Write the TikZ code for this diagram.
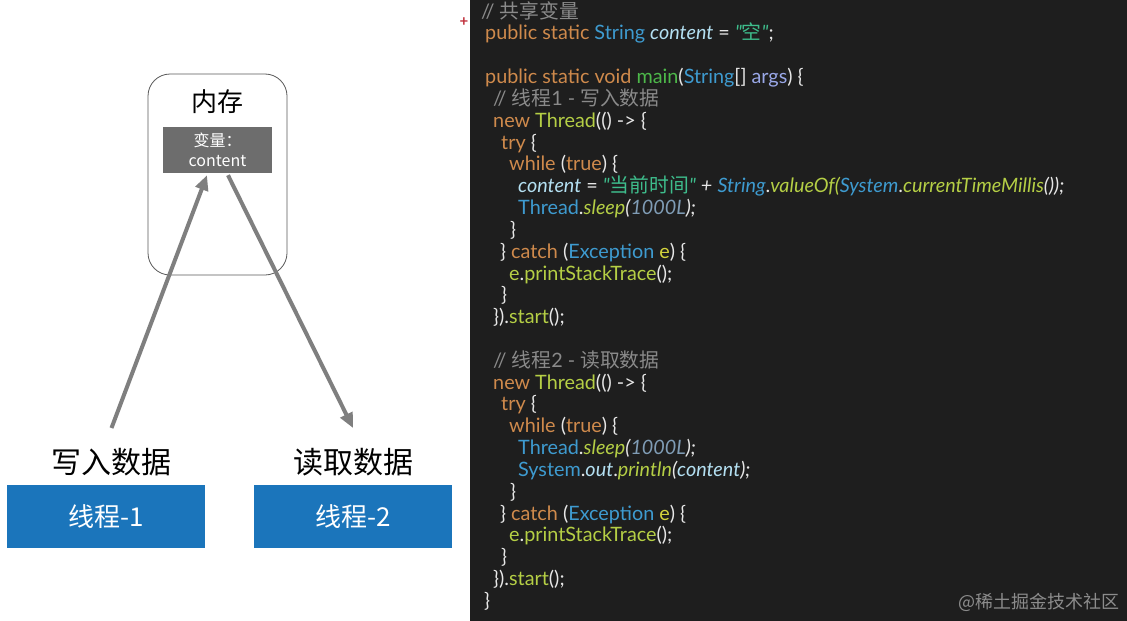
\documentclass[tikz,border=0pt]{standalone}
\usepackage{fontspec}
\setmainfont{Lato}
\newfontfamily\codefont{Lato}
\newfontfamily\cjk{Noto Sans CJK SC}
\usetikzlibrary{arrows.meta}
\definecolor{panel}{HTML}{1E1E1E}
\definecolor{kwc}{HTML}{CF8A4C}
\definecolor{tyc}{HTML}{3E9BD0}
\definecolor{vac}{HTML}{B4E0F2}
\definecolor{strc}{HTML}{3EBD8C}
\definecolor{fnc}{HTML}{B5CF45}
\definecolor{mainc}{HTML}{4DB84A}
\definecolor{argc}{HTML}{9AA8E8}
\definecolor{cmc}{HTML}{8A8A8A}
\definecolor{punc}{HTML}{E6E6E6}
\definecolor{numc}{HTML}{7F9CB5}
\definecolor{ec}{HTML}{D4D43C}
\definecolor{blueb}{HTML}{1B75BB}
\definecolor{varb}{HTML}{6D6D6D}
\definecolor{arrc}{HTML}{7F7F7F}
\definecolor{wmc}{HTML}{8C8C8C}
\definecolor{plusc}{HTML}{C0303C}
\newcommand\cKw[1]{\textcolor{kwc}{#1}}
\newcommand\cTy[1]{\textcolor{tyc}{#1}}
\newcommand\cTyI[1]{\textcolor{tyc}{\itshape #1}}
\newcommand\cVa[1]{\textcolor{vac}{\itshape #1}}
\newcommand\cStr[1]{\textcolor{strc}{\itshape #1}}
\newcommand\cFn[1]{\textcolor{fnc}{#1}}
\newcommand\cFnI[1]{\textcolor{fnc}{\itshape #1}}
\newcommand\cCm[1]{\textcolor{cmc}{#1}}
\newcommand\cNum[1]{\textcolor{numc}{\itshape #1}}
\newcommand\cMain[1]{\textcolor{mainc}{#1}}
\newcommand\cArg[1]{\textcolor{argc}{#1}}
\newcommand\cE[1]{\textcolor{ec}{#1}}
\begin{document}
\begin{tikzpicture}[x=1pt,y=-1pt,
  code/.style={anchor=base west, inner sep=0pt, text=punc, font=\codefont\fontsize{19.8}{22}\selectfont},
  arr/.style={draw=arrc, line width=4pt, -{Triangle[length=15pt,width=13pt]}},
  bluebox/.style={fill=blueb, draw=none, minimum width=198pt, minimum height=63pt, inner sep=0pt, text=white, font=\cjk\fontsize{26}{30}\selectfont},
  lbl/.style={inner sep=0pt, font=\cjk\fontsize{30}{32}\selectfont}]
\fill[white] (0,0) rectangle (1127,621);
\fill[panel] (470,0) rectangle (1127,621);
% left diagram
\node[draw=black!65, line width=0.8pt, rounded corners=22pt, minimum width=139pt, minimum height=201pt, inner sep=0pt] (mem) at (217.5,174.5) {};
\node[inner sep=0pt, font=\cjk\fontsize{26}{28}\selectfont] (memt) at (217.5,102) {内存};
\node[fill=varb, minimum width=109pt, minimum height=46pt, inner sep=0pt, text=white, align=center, font=\cjk\fontsize{16}{20}\selectfont] (var) at (217.5,150) {变量：\\content};
\node[lbl] (wl) at (111.5,462) {写入数据};
\node[lbl] (rl) at (353,462) {读取数据};
\node[bluebox] (t1) at (106,516.5) {线程-1};
\node[bluebox] (t2) at (353,516.5) {线程-2};
\draw[arr] ([yshift=34pt]wl.center) -- ([xshift=-10.5pt,yshift=-2pt]var.south);
\draw[arr] ([xshift=10.5pt,yshift=-2pt]var.south) -- ([yshift=34pt]rl.center);
% code panel
\node[inner sep=0pt, text=plusc, font=\codefont\bfseries\fontsize{15}{15}\selectfont] (plus) at (464,22) {+};
\node[code] (c0) at (481,18) {\cCm{// {\cjk 共享变量}}};
\node[code] (c1) at (485,39.8) {\cKw{public static} \cTy{String} \cVa{content} = \cStr{"{\cjk 空}"};};
\node[code] (c3) at (485,83.5) {\cKw{public static void} \cMain{main}(\cTy{String}[] \cArg{args}) \{};
\node[code] (c4) at (493,105.3) {\cCm{// {\cjk 线程}1 - {\cjk 写入数据}}};
\node[code] (c5) at (493,127.2) {\cKw{new} \cFn{Thread}(() -> \{};
\node[code] (c6) at (501,149) {\cKw{try} \{};
\node[code] (c7) at (509,170.8) {\cKw{while} (\cKw{true}) \{};
\node[code] (c8) at (518,192.6) {\cVa{content} = \cStr{"{\cjk 当前时间}"} {\itshape +} \cTyI{String}.\cFnI{valueOf(}\cTyI{System}.\cFnI{currentTimeMillis}{\itshape ());}};
\node[code] (c9) at (518,214.5) {\cTy{Thread}.\cFnI{sleep}{\itshape (}\cNum{1000L}{\itshape );}};
\node[code] (c10) at (510,236.3) {\}};
\node[code] (c11) at (500,258.1) {\} \cKw{catch} (\cTy{Exception} \cE{e}) \{};
\node[code] (c12) at (509,280) {\cFn{e}.\cFn{printStackTrace}();};
\node[code] (c13) at (501,301.8) {\}};
\node[code] (c14) at (493,323.6) {\}).\cFn{start}();};
\node[code] (c16) at (493,367.3) {\cCm{// {\cjk 线程}2 - {\cjk 读取数据}}};
\node[code] (c17) at (493,389.1) {\cKw{new} \cFn{Thread}(() -> \{};
\node[code] (c18) at (501,410.9) {\cKw{try} \{};
\node[code] (c19) at (509,432.8) {\cKw{while} (\cKw{true}) \{};
\node[code] (c20) at (518,454.6) {\cTy{Thread}.\cFnI{sleep}{\itshape (}\cNum{1000L}{\itshape );}};
\node[code] (c21) at (518,476.4) {\cTy{System}.\cVa{out}.\cFnI{println}{\itshape (}\cVa{content}{\itshape );}};
\node[code] (c22) at (510,498.3) {\}};
\node[code] (c23) at (500,520.1) {\} \cKw{catch} (\cTy{Exception} \cE{e}) \{};
\node[code] (c24) at (509,541.9) {\cFn{e}.\cFn{printStackTrace}();};
\node[code] (c25) at (501,563.8) {\}};
\node[code] (c26) at (493,585.6) {\}).\cFn{start}();};
\node[code] (c27) at (484,607.4) {\}};
\node[inner sep=0pt, anchor=east, text=wmc, font=\cjk\fontsize{18}{20}\selectfont] (wm) at (1120,602) {@稀土掘金技术社区};
\end{tikzpicture}
\end{document}
